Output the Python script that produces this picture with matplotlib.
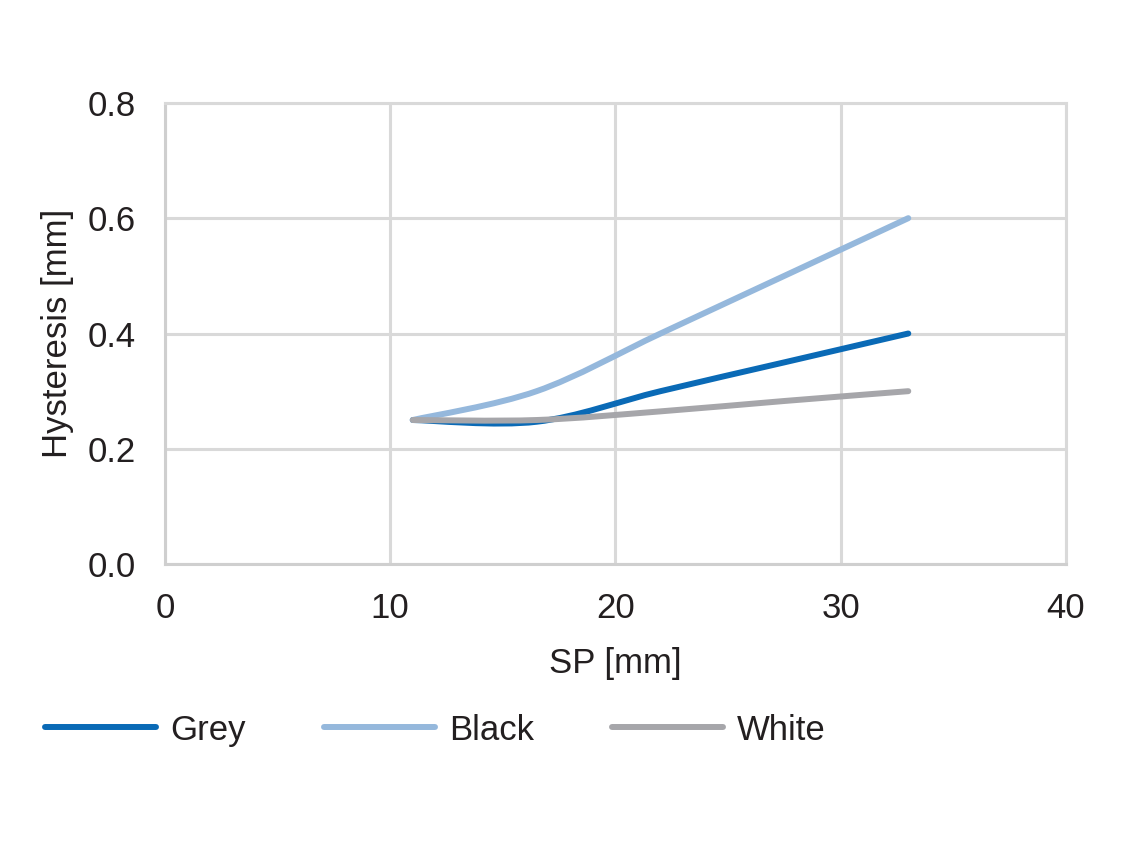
import numpy as np
import matplotlib.pyplot as plt
from matplotlib.path import Path
from matplotlib.patches import PathPatch
from matplotlib.lines import Line2D

plt.rcParams['font.family'] = ['Liberation Sans', 'DejaVu Sans']

# data
sp = [11, 16.5, 22, 27.5, 33]
grey = [0.25, 0.247, 0.30, 0.35, 0.40]
black = [0.25, 0.30, 0.40, 0.50, 0.60]
white = [0.25, 0.25, 0.265, 0.283, 0.30]
names = ['Grey', 'Black', 'White']
colors = ['#0a6ab6', '#95b8dc', '#a6a6aa']
txt = '#231f20'
fs = 25


def smooth_path(x, y):
    # excel-like bezier smoothing through the points
    p = np.column_stack([x, y]).astype(float)
    n = len(p)
    verts = [p[0]]
    codes = [Path.MOVETO]
    for i in range(n - 1):
        p0 = p[i - 1] if i > 0 else p[i]
        p3 = p[i + 2] if i + 2 < n else p[i + 1]
        c1 = p[i] + (p[i + 1] - p0) / 6
        c2 = p[i + 1] - (p3 - p[i]) / 6
        verts += [c1, c2, p[i + 1]]
        codes += [Path.CURVE4] * 3
    return Path(verts, codes)


fig = plt.figure(figsize=(11.34, 8.64), dpi=100)
ax = fig.add_axes([0.1455, 0.347, 0.7945, 0.534])

for ys, c in zip([grey, black, white], colors):
    ax.add_patch(PathPatch(smooth_path(sp, ys), fill=False, edgecolor=c,
                           lw=4.3, capstyle='round', zorder=3))

ax.set_xlim(0, 40)
ax.set_ylim(0, 0.8)
ax.set_xticks([0, 10, 20, 30, 40])
ax.set_yticks([0, 0.2, 0.4, 0.6, 0.8])
ax.set_yticklabels(['0.0', '0.2', '0.4', '0.6', '0.8'])
ax.grid(True, color='#d9d9d9', lw=2.2)
ax.set_axisbelow(True)
for s in ax.spines.values():
    s.set_color('#d9d9d9')
    s.set_linewidth(2.2)
ax.spines['bottom'].set_color('#cfcfcf')
ax.spines['left'].set_color('#cfcfcf')
ax.tick_params(length=0, labelsize=fs, labelcolor=txt)
ax.tick_params(axis='y', pad=21)
ax.tick_params(axis='x', pad=20)
ax.set_xlabel('SP [mm]', fontsize=fs, color=txt, labelpad=16)
ax.set_ylabel('Hysteresis [mm]', fontsize=fs, color=txt, labelpad=10)

handles = [Line2D([], [], color=c, lw=4.3, solid_capstyle='round') for c in colors]
fig.legend(handles, names, loc='center left', bbox_to_anchor=(0.04, 0.155), ncol=3,
           frameon=False, fontsize=fs, handlelength=3.2, columnspacing=2.25,
           handletextpad=0.4, labelcolor=txt, borderaxespad=0, borderpad=0)

fig.savefig('out.png', dpi=100)
